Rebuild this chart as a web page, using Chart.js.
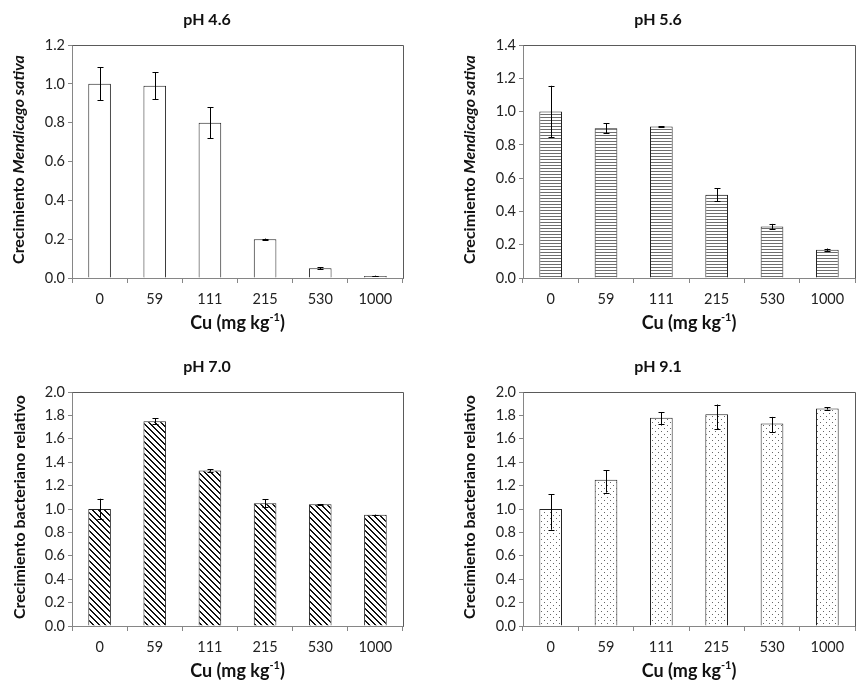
<!DOCTYPE html>
<html>
<head>
<meta charset="utf-8">
<script src="https://cdn.jsdelivr.net/npm/chart.js@4.4.1/dist/chart.umd.min.js"></script>
<style>
  body { margin: 0; background: #fff; width: 865px; height: 695px; position: relative; overflow: hidden; }
  .panel { position: absolute; }
</style>
</head>
<body>
<div class="panel" style="left:0;top:0"><canvas id="c46" width="432" height="340"></canvas></div>
<div class="panel" style="left:432px;top:0"><canvas id="c56" width="433" height="340"></canvas></div>
<div class="panel" style="left:0;top:340px"><canvas id="c70" width="432" height="355"></canvas></div>
<div class="panel" style="left:432px;top:340px"><canvas id="c91" width="433" height="355"></canvas></div>
<script>
// data
const cuLabels = ['0', '59', '111', '215', '530', '1000'];

const ph46Values = [1.00, 0.99, 0.80, 0.20, 0.05, 0.01];
const ph46Errors = [0.085, 0.07, 0.08, 0.003, 0.005, 0.002];

const ph56Values = [1.00, 0.90, 0.91, 0.50, 0.31, 0.17];
const ph56Errors = [0.155, 0.03, 0.003, 0.04, 0.015, 0.007];

const ph70Values = [1.00, 1.75, 1.33, 1.05, 1.04, 0.95];
const ph70Errors = [0.088, 0.025, 0.01, 0.035, 0.003, 0.002];

const ph91Values = [1.00, 1.25, 1.78, 1.81, 1.73, 1.86];
const ph91ErrUp = [0.126, 0.08, 0.049, 0.083, 0.057, 0.01];
const ph91ErrDown = [0.177, 0.11, 0.054, 0.126, 0.072, 0.01];

const FONT = 'Lato, "Open Sans", sans-serif';
const AXIS_GRAY = '#868686';

// fill patterns like the excel ones
function makePattern(w, h, painter) {
  const c = document.createElement('canvas');
  c.width = w; c.height = h;
  const g = c.getContext('2d');
  g.fillStyle = '#fff';
  g.fillRect(0, 0, w, h);
  painter(g, w, h);
  return g.createPattern(c, 'repeat');
}

const plainFill = '#ffffff';
const hLines = makePattern(4, 3, function (g) {
  g.fillStyle = '#6e6e6e';
  g.fillRect(0, 0, 4, 1);
});
const diagLines = makePattern(6, 6, function (g, w, h) {
  g.fillStyle = '#111';
  for (let y = 0; y < h; y++) {
    for (let x = 0; x < w; x++) {
      if (((x - y) % 6 + 6) % 6 < 2) g.fillRect(x, y, 1, 1);
    }
  }
});
const dots = makePattern(6, 6, function (g) {
  g.fillStyle = '#666';
  g.fillRect(1, 1, 1, 1);
  g.fillRect(4, 4, 1, 1);
});

// draws error bars, frame and all the titles
const decorPlugin = {
  id: 'decor',
  afterDatasetsDraw(chart) {
    const o = chart.options.plugins.decor;
    const ctx = chart.ctx;
    const a = chart.chartArea;
    const y = chart.scales.y;
    const meta = chart.getDatasetMeta(0);

    ctx.save();
    // top and right edges of the plot frame
    ctx.strokeStyle = '#5a5a5a';
    ctx.lineWidth = 1;
    ctx.beginPath();
    ctx.moveTo(Math.round(a.left) + 0.5, Math.round(a.top) + 0.5);
    ctx.lineTo(Math.round(a.right) + 0.5, Math.round(a.top) + 0.5);
    ctx.lineTo(Math.round(a.right) + 0.5, Math.round(a.bottom) + 0.5);
    ctx.stroke();

    // error bars
    ctx.strokeStyle = '#000';
    meta.data.forEach(function (bar, i) {
      const v = o.values[i];
      const x = Math.round(bar.x) + 0.5;
      const yTop = y.getPixelForValue(v + o.errUp[i]);
      const yBot = y.getPixelForValue(v - o.errDown[i]);
      ctx.beginPath();
      ctx.moveTo(x, yTop);
      ctx.lineTo(x, yBot);
      ctx.moveTo(x - 3, Math.round(yTop) + 0.5);
      ctx.lineTo(x + 3, Math.round(yTop) + 0.5);
      ctx.moveTo(x - 3, Math.round(yBot) + 0.5);
      ctx.lineTo(x + 3, Math.round(yBot) + 0.5);
      ctx.stroke();
    });

    ctx.fillStyle = '#111';
    // panel title
    ctx.font = 'bold 16px ' + FONT;
    ctx.textAlign = 'center';
    ctx.textBaseline = 'middle';
    ctx.fillText(o.title, o.titleX, o.titleY);

    // x axis title with superscript
    const cx = (a.left + a.right) / 2;
    const p1 = 'Cu (mg kg', p3 = ')';
    ctx.font = 'bold 11px ' + FONT;
    const sup = '-1';
    const wSup = ctx.measureText(sup).width;
    ctx.font = 'bold 18px ' + FONT;
    const w1 = ctx.measureText(p1).width, w3 = ctx.measureText(p3).width;
    let sx = cx - (w1 + wSup + w3) / 2;
    ctx.textAlign = 'left';
    ctx.fillText(p1, sx, o.xTitleY);
    sx += w1;
    ctx.font = 'bold 11px ' + FONT;
    ctx.fillText(sup, sx, o.xTitleY - 6);
    sx += wSup;
    ctx.font = 'bold 18px ' + FONT;
    ctx.fillText(p3, sx, o.xTitleY);

    // y axis title, rotated, with italic parts
    ctx.translate(o.yTitleX, (a.top + a.bottom) / 2 - 2);
    ctx.rotate(-Math.PI / 2);
    let total = 0;
    o.yTitle.forEach(function (part) {
      ctx.font = (part.italic ? 'italic ' : '') + 'bold 16px ' + FONT;
      total += ctx.measureText(part.text).width;
    });
    let tx = -total / 2;
    o.yTitle.forEach(function (part) {
      ctx.font = (part.italic ? 'italic ' : '') + 'bold 16px ' + FONT;
      ctx.fillText(part.text, tx, 0);
      tx += ctx.measureText(part.text).width;
    });
    ctx.restore();
  }
};

function makeChart(id, cfg) {
  const canvas = document.getElementById(id);
  const W = canvas.width, H = canvas.height;
  const yW = 30, xH = 30;
  return new Chart(canvas.getContext('2d'), {
    type: 'bar',
    data: {
      labels: cuLabels,
      datasets: [{
        data: cfg.values,
        backgroundColor: cfg.fill,
        borderColor: '#222',
        borderWidth: 1,
        barPercentage: 0.41,
        categoryPercentage: 1
      }]
    },
    options: {
      responsive: false,
      animation: false,
      events: [],
      layout: {
        padding: {
          left: cfg.area.l - yW,
          top: cfg.area.t,
          right: W - cfg.area.r,
          bottom: H - cfg.area.b - xH
        }
      },
      scales: {
        x: {
          afterFit: function (s) { s.height = xH; },
          grid: { offset: true, drawOnChartArea: false, tickLength: 5, color: AXIS_GRAY },
          border: { color: AXIS_GRAY },
          ticks: { font: { family: FONT, size: 14.5 }, color: '#222', padding: 8, maxRotation: 0 }
        },
        y: {
          min: 0,
          max: cfg.max,
          afterFit: function (s) { s.width = yW; },
          grid: { drawOnChartArea: false, tickLength: 4, color: AXIS_GRAY },
          border: { color: AXIS_GRAY },
          ticks: {
            stepSize: 0.2,
            font: { family: FONT, size: 14.5 },
            color: '#222',
            padding: 3,
            callback: function (v) { return v.toFixed(1); }
          }
        }
      },
      plugins: {
        legend: { display: false },
        tooltip: { enabled: false },
        decor: {
          values: cfg.values,
          errUp: cfg.errUp,
          errDown: cfg.errDown,
          title: cfg.title,
          titleX: cfg.titleX,
          titleY: cfg.titleY,
          xTitleY: cfg.xTitleY,
          yTitleX: cfg.yTitleX,
          yTitle: cfg.yTitle
        }
      }
    },
    plugins: [decorPlugin]
  });
}

const medicagoTitle = [{ text: 'Crecimiento ', italic: false }, { text: 'Mendicago sativa', italic: true }];
const bacterTitle = [{ text: 'Crecimiento bacteriano relativo', italic: false }];

document.fonts.load('bold 16px Lato').then(function () {
  makeChart('c46', {
    values: ph46Values, errUp: ph46Errors, errDown: ph46Errors, fill: plainFill, max: 1.2,
    area: { l: 72, t: 45, r: 403, b: 278 },
    title: 'pH 4.6', titleX: 207, titleY: 20, xTitleY: 323, yTitleX: 19, yTitle: medicagoTitle
  });
  makeChart('c56', {
    values: ph56Values, errUp: ph56Errors, errDown: ph56Errors, fill: hLines, max: 1.4,
    area: { l: 91, t: 45, r: 423, b: 278 },
    title: 'pH 5.6', titleX: 226, titleY: 20, xTitleY: 323, yTitleX: 38, yTitle: medicagoTitle
  });
  makeChart('c70', {
    values: ph70Values, errUp: ph70Errors, errDown: ph70Errors, fill: diagLines, max: 2.0,
    area: { l: 72, t: 52, r: 403, b: 286 },
    title: 'pH 7.0', titleX: 207, titleY: 27, xTitleY: 331, yTitleX: 20, yTitle: bacterTitle
  });
  makeChart('c91', {
    values: ph91Values, errUp: ph91ErrUp, errDown: ph91ErrDown, fill: dots, max: 2.0,
    area: { l: 91, t: 52, r: 423, b: 286 },
    title: 'pH 9.1', titleX: 226, titleY: 27, xTitleY: 331, yTitleX: 38, yTitle: bacterTitle
  });
});
</script>
</body>
</html>
